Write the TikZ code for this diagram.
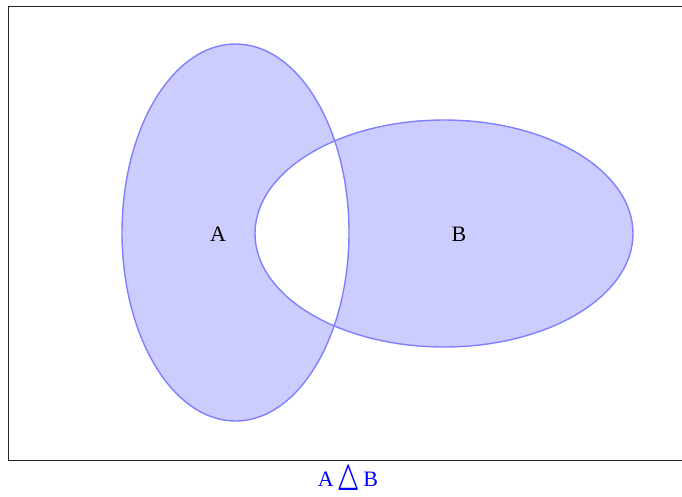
\documentclass[tikz,border=0pt]{standalone}
\usepackage{fontspec}
\setmainfont{Liberation Serif}
\begin{document}
\begin{tikzpicture}[x=1pt,y=-1pt,
  setline/.style={draw=blue!50, line width=1.4pt},
  lbl/.style={font=\fontsize{22}{26}\selectfont, inner sep=0pt}]
\useasboundingbox (0,0) rectangle (682,496);
\draw[line width=1pt, black!85] (8,6) -- (686,6) (8,6) -- (8,460) -- (686,460);
\fill[blue!20, even odd rule] (235.5,232.5) ellipse [x radius=113.5, y radius=188.5]
  (444,233.5) ellipse [x radius=189, y radius=113.5];
\draw[setline] (235.5,232.5) ellipse [x radius=113.5, y radius=188.5];
\draw[setline] (444,233.5) ellipse [x radius=189, y radius=113.5];
\node[lbl] (A) at (218,234) {A};
\node[lbl] (B) at (459,234) {B};
\node[lbl, text=blue] (cap) at (348,481) {A\,\raisebox{-4pt}{\scalebox{1.05}[1.75]{\boldmath$\bigtriangleup$}}\,B};
\end{tikzpicture}
\end{document}
